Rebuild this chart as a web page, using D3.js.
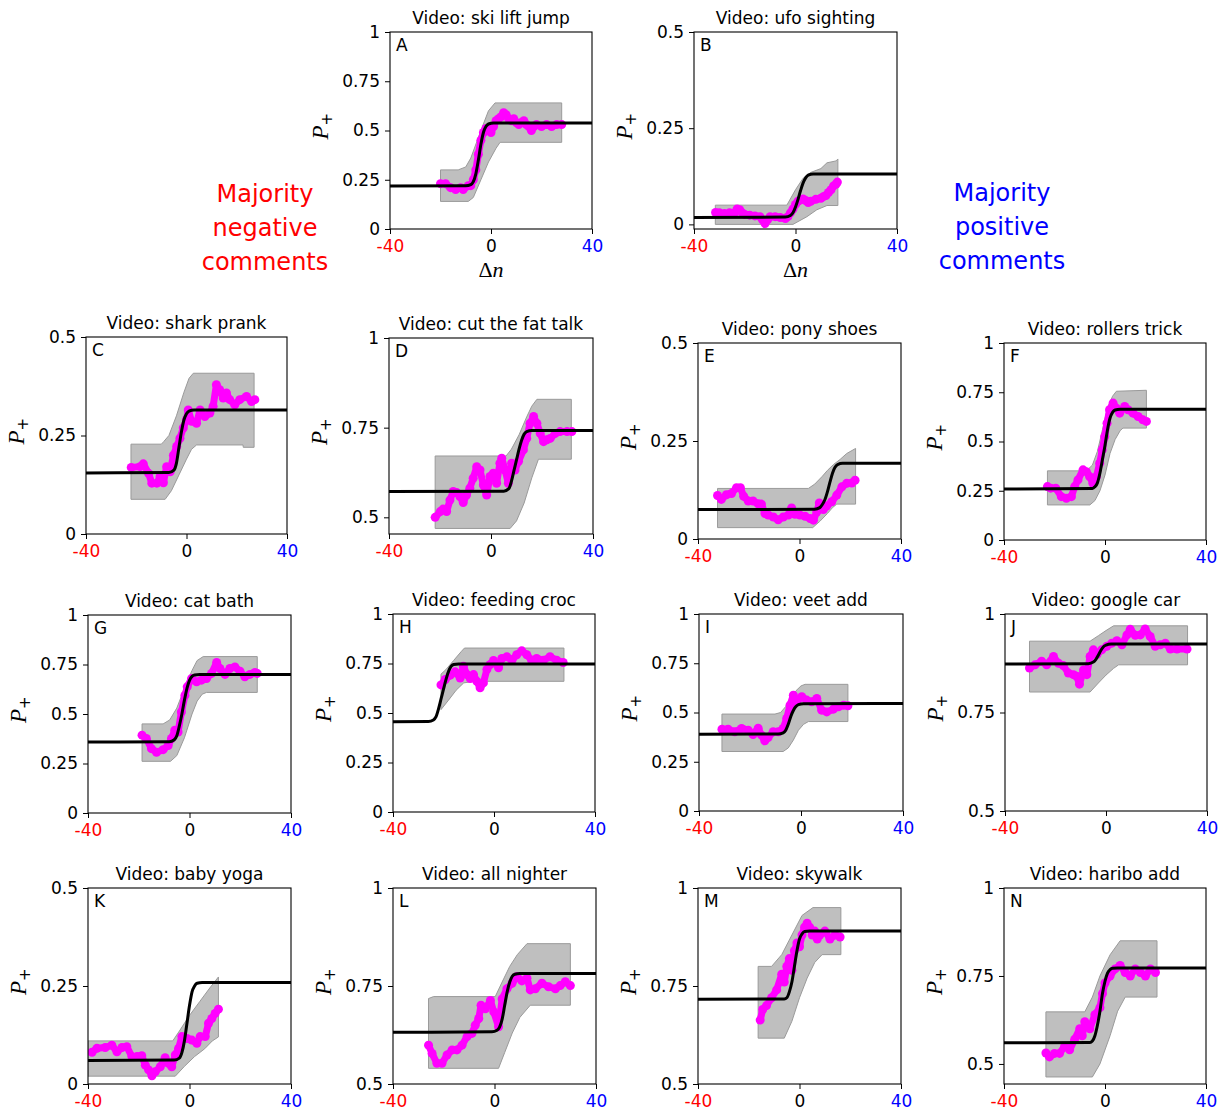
<!DOCTYPE html>
<html><head><meta charset="utf-8">
<script src="https://cdn.jsdelivr.net/npm/d3@7"></script>
<style>
body{margin:0;background:#fff;}
</style>
</head><body>
<script>
// ---------------- DATA ----------------
const panelIds = ["A","B","C","D","E","F","G","H","I","J","K","L","M","N"];
const videoTitles = ["ski lift jump","ufo sighting","shark prank","cut the fat talk","pony shoes","rollers trick",
  "cat bath","feeding croc","veet add","google car","baby yoga","all nighter","skywalk","haribo add"];
const xTickValues = [-40, 0, 40];
const xTickColors = ["#ff0000", "#000000", "#0000ff"];
const yTicksFull = [0, 0.25, 0.5, 0.75, 1];
const yTicksLow = [0, 0.25, 0.5];
const yTicksHigh = [0.5, 0.75, 1];
const yDomains = [[0,1],[-0.012,0.5],[0,0.5],[0.4535,1],[0,0.5],[0,1],[0,1],[0,1],[0,1],[0.5,1],[0,0.5],[0.5,1],[0.5,1],[0.443,1]];
const yTickSets = [yTicksFull,yTicksLow,yTicksLow,yTicksHigh,yTicksLow,yTicksFull,yTicksFull,yTicksFull,yTicksFull,yTicksHigh,yTicksLow,yTicksHigh,yTicksHigh,yTicksHigh];
const leftNote = ["Majority","negative","comments"];
const rightNote = ["Majority","positive","comments"];

// Panel A
const magA = [[-20,0.23],[-18,0.23],[-16,0.21],[-14,0.2],[-12,0.21],[-11,0.2],[-9,0.22],[-8,0.22],[-7,0.25],[-6,0.3],[-5,0.38],[-4,0.45],[-3,0.49],[-2,0.51],[-1,0.5],[0,0.49],[1,0.52],[2,0.55],[3,0.56],[4,0.57],[5,0.59],[6,0.58],[7,0.56],[8,0.55],[9,0.56],[10,0.54],[11,0.53],[12,0.54],[13,0.55],[14,0.53],[15,0.52],[16,0.5],[17,0.52],[18,0.53],[20,0.52],[22,0.53],[24,0.52],[26,0.53],[28,0.53]];
const hiA = [[-20,0.30],[-13,0.30],[-10,0.315],[-8,0.36],[-4,0.50],[-1,0.60],[1.6,0.64],[28,0.64]];
const loA = [[-20,0.14],[-9,0.14],[-7,0.16],[-4,0.25],[-1,0.34],[2,0.41],[3.6,0.44],[28,0.44]];
const fitA = [[-40,0.218],[-10,0.219],[-8,0.225],[-7,0.24],[-6,0.28],[-5,0.35],[-4,0.43],[-3,0.49],[-2,0.52],[-1,0.533],[1,0.538],[40,0.538]];

// Panel B
const magB = [[-31.5,0.031],[-30,0.03],[-28,0.028],[-26,0.03],[-24,0.03],[-23,0.04],[-22,0.038],[-21,0.03],[-20,0.026],[-18,0.024],[-16,0.022],[-14,0.02],[-13,0.012],[-12,0.002],[-11,0.012],[-10,0.02],[-8,0.02],[-6,0.018],[-4,0.015],[-3,0.02],[-2,0.03],[-1,0.04],[0,0.052],[1,0.06],[2,0.064],[3,0.066],[4,0.062],[5,0.057],[6,0.06],[8,0.065],[10,0.068],[11,0.072],[12,0.075],[13,0.083],[14,0.09],[15,0.1],[16,0.105],[16.5,0.11]];
const hiB = [[-31.6,0.05],[-3.4,0.05],[0,0.09],[3,0.12],[6,0.135],[10,0.145],[12.4,0.16],[16,0.165],[16.7,0.17]];
const loB = [[-31.6,0],[-1,0],[4.5,0.02],[8.4,0.038],[12.4,0.049],[16.7,0.049]];
const fitB = [[-40,0.018],[-4,0.019],[-2,0.023],[-1,0.03],[0,0.045],[1,0.065],[2,0.088],[3,0.108],[4,0.121],[5,0.128],[7,0.131],[40,0.131]];

// Panel C
const magC = [[-22,0.169],[-18.5,0.171],[-17.2,0.178],[-15.1,0.154],[-13.8,0.129],[-11.8,0.129],[-10.5,0.146],[-9.2,0.13],[-7.9,0.171],[-6.5,0.158],[-5.2,0.2],[-3.9,0.222],[-2.6,0.243],[-1.3,0.269],[0,0.29],[0.7,0.315],[2,0.286],[4,0.281],[5.4,0.315],[7.3,0.298],[9.3,0.307],[10.6,0.324],[11.9,0.379],[13.2,0.366],[14.6,0.345],[15.9,0.358],[17.2,0.341],[19.2,0.328],[21.2,0.341],[23.9,0.349],[25.9,0.336],[27.2,0.341]];
const hiC = [[-22.1,0.228],[-10,0.228],[-9,0.235],[-7,0.25],[-4,0.3],[-1,0.36],[1,0.395],[2.7,0.408],[26.9,0.408]];
const loC = [[-22.1,0.088],[-8.5,0.088],[-6,0.11],[-3,0.15],[0,0.19],[2,0.215],[4,0.226],[22.5,0.226],[22.6,0.22],[26.9,0.22]];
const fitC = [[-40,0.155],[-7,0.156],[-5,0.162],[-4,0.18],[-3,0.22],[-2,0.26],[-1,0.29],[0,0.305],[1,0.312],[3,0.315],[40,0.315]];

// Panel D
const magD = [[-21.9,0.5],[-19.9,0.516],[-18.8,0.523],[-17.4,0.516],[-16.1,0.548],[-14.8,0.572],[-13.5,0.569],[-12.2,0.558],[-10.9,0.541],[-9.6,0.562],[-8.3,0.581],[-7,0.609],[-5.6,0.641],[-4.3,0.632],[-3,0.59],[-1.7,0.562],[-0.4,0.614],[0.9,0.623],[2.2,0.595],[3.5,0.651],[4.2,0.665],[5.5,0.632],[6.8,0.595],[8.1,0.651],[9.4,0.632],[10.8,0.656],[12.7,0.688],[14,0.72],[15.3,0.762],[16.7,0.781],[18,0.762],[19.3,0.734],[20.6,0.711],[21.9,0.716],[23.2,0.72],[25.2,0.734],[27.1,0.739],[29.8,0.739],[31.7,0.739]];
const hiD = [[-21.9,0.671],[5.9,0.671],[8,0.69],[11,0.73],[14,0.78],[16,0.81],[18,0.829],[31.5,0.829]];
const loD = [[-21.9,0.469],[7.5,0.469],[10,0.49],[13,0.54],[16,0.61],[18.6,0.662],[31.5,0.662]];
const fitD = [[-40,0.572],[5,0.573],[7,0.58],[8,0.6],[9,0.63],[10,0.66],[11,0.69],[12,0.715],[13,0.732],[14,0.739],[16,0.742],[40,0.742]];

// Panel E
const magE = [[-32.3,0.111],[-30.8,0.101],[-28.8,0.113],[-26.8,0.116],[-24.8,0.131],[-23.3,0.131],[-22,0.109],[-20.2,0.097],[-18.3,0.097],[-16.3,0.09],[-15,0.089],[-13.6,0.065],[-12.3,0.061],[-10.3,0.056],[-8.4,0.049],[-6.4,0.056],[-4.4,0.061],[-3.1,0.079],[-1.8,0.063],[0.2,0.061],[2.2,0.058],[4.2,0.052],[5.5,0.048],[6.8,0.069],[7.8,0.092],[9.4,0.075],[10.7,0.084],[12.7,0.095],[14.7,0.112],[16.7,0.133],[18.6,0.142],[20.6,0.143],[21.9,0.15]];
const hiE = [[-32.3,0.129],[3.5,0.129],[6,0.14],[9,0.16],[11,0.175],[13.4,0.19],[16,0.203],[18.6,0.218],[22.1,0.231]];
const loE = [[-32.3,0.029],[5.2,0.029],[8,0.045],[11,0.065],[13,0.08],[14.7,0.089],[22.1,0.089]];
const fitE = [[-40,0.075],[6,0.076],[8,0.08],[9,0.088],[10,0.1],[11,0.12],[12,0.145],[13,0.168],[14,0.183],[15,0.19],[17,0.193],[40,0.193]];

// Panel F
const magF = [[-22.8,0.271],[-21.5,0.263],[-19.5,0.263],[-17.3,0.22],[-15.3,0.212],[-13.3,0.22],[-12,0.271],[-10.7,0.305],[-8.7,0.356],[-7.4,0.347],[-6.1,0.322],[-4.8,0.288],[-3.4,0.322],[-2.1,0.39],[-1.1,0.458],[-0.1,0.525],[0.8,0.593],[1.8,0.661],[3.2,0.695],[4.5,0.669],[5.8,0.644],[7.8,0.678],[9.1,0.661],[11.1,0.644],[13.1,0.627],[15,0.61],[16.4,0.602]];
const hiF = [[-22.8,0.351],[-7.4,0.351],[-5,0.38],[-3,0.45],[-1,0.56],[1,0.67],[3,0.73],[4.5,0.755],[16.4,0.76]];
const loF = [[-22.8,0.178],[-6,0.178],[-4,0.2],[-2,0.25],[0,0.33],[2,0.44],[4,0.51],[6,0.555],[7.1,0.568],[16.4,0.568]];
const fitF = [[-40,0.259],[-5,0.262],[-4,0.27],[-3,0.29],[-2,0.34],[-1,0.41],[0,0.48],[1,0.56],[2,0.62],[3,0.648],[4,0.66],[6,0.664],[40,0.664]];

// Panel G
const magG = [[-18.7,0.393],[-17,0.376],[-15,0.325],[-13,0.307],[-10.4,0.32],[-8.4,0.341],[-7.1,0.376],[-5.8,0.418],[-4.5,0.409],[-3.2,0.51],[-1.8,0.594],[-0.9,0.637],[0.8,0.679],[2.8,0.663],[4.7,0.671],[6.7,0.679],[8.7,0.705],[10.7,0.76],[12,0.73],[14,0.7],[15.9,0.73],[17.9,0.738],[19.9,0.716],[21.8,0.688],[23.8,0.7],[25.8,0.71],[26.7,0.705]];
const hiG = [[-18.7,0.45],[-10.4,0.45],[-7.8,0.47],[-5,0.53],[-2,0.63],[1,0.72],[3,0.77],[5.4,0.79],[26.7,0.79]];
const loG = [[-18.7,0.261],[-7.5,0.261],[-5,0.29],[-2,0.38],[1,0.5],[3,0.565],[5,0.6],[6.7,0.609],[26.7,0.609]];
const fitG = [[-40,0.358],[-8,0.36],[-6,0.37],[-5,0.39],[-4,0.44],[-3,0.5],[-2,0.57],[-1,0.63],[0,0.67],[1,0.69],[2,0.697],[4,0.7],[40,0.7]];

// Panel H
const magH = [[-21,0.642],[-19.3,0.669],[-17.3,0.691],[-15.4,0.708],[-13.4,0.677],[-12.1,0.736],[-10.7,0.694],[-9.4,0.674],[-8.1,0.694],[-6.8,0.66],[-5.5,0.627],[-4.2,0.652],[-2.8,0.72],[-1.5,0.745],[-0.2,0.765],[1.8,0.728],[3.1,0.775],[5.1,0.784],[7.1,0.767],[9,0.794],[11,0.814],[13,0.794],[14.9,0.767],[16.9,0.775],[19.6,0.767],[22.2,0.784],[24.8,0.767],[27.4,0.755]];
const hiH = [[-21,0.696],[-19,0.72],[-16,0.765],[-13,0.81],[-11.7,0.828],[27.7,0.828]];
const loH = [[-21,0.517],[-18,0.565],[-15,0.615],[-12,0.652],[-8,0.66],[27.7,0.66]];
const fitH = [[-40,0.456],[-26,0.457],[-24,0.465],[-23,0.48],[-22,0.52],[-21,0.57],[-20,0.62],[-19,0.67],[-18,0.71],[-17,0.735],[-16,0.745],[-14,0.748],[40,0.748]];

// Panel I
const magI = [[-31,0.415],[-28.6,0.415],[-26,0.402],[-23.3,0.419],[-20.7,0.41],[-18.8,0.388],[-16.8,0.42],[-15.5,0.385],[-14.2,0.356],[-12.9,0.373],[-10.9,0.402],[-8.9,0.402],[-7,0.419],[-5.6,0.47],[-4.3,0.537],[-3,0.588],[-1.7,0.554],[0.3,0.58],[2.2,0.563],[4.2,0.554],[6.2,0.571],[8.1,0.512],[10.1,0.503],[12.7,0.517],[14.7,0.529],[16.7,0.537],[18.4,0.534]];
const hiI = [[-31,0.492],[-10.2,0.492],[-8,0.5],[-6,0.53],[-4,0.57],[-2,0.61],[0,0.635],[1.6,0.643],[18.4,0.643]];
const loI = [[-31,0.302],[-7,0.302],[-5,0.32],[-3,0.36],[-1,0.41],[1,0.44],[2.9,0.454],[18.4,0.454]];
const fitI = [[-40,0.39],[-9,0.391],[-7,0.397],[-6,0.41],[-5,0.44],[-4,0.48],[-3,0.51],[-2,0.53],[-1,0.54],[1,0.545],[40,0.546]];

// Panel J
const magJ = [[-30.3,0.863],[-28.1,0.871],[-25.5,0.88],[-23.5,0.871],[-20.8,0.892],[-18.8,0.875],[-16.9,0.869],[-14.9,0.85],[-12.9,0.846],[-11.6,0.842],[-10.5,0.822],[-8.9,0.858],[-7.6,0.846],[-6.3,0.892],[-5,0.909],[-3.6,0.897],[-1.7,0.909],[0.3,0.918],[2.3,0.926],[4.3,0.932],[6.3,0.922],[8.3,0.947],[9.6,0.961],[11.6,0.946],[13.6,0.947],[15.5,0.962],[17.5,0.943],[19.5,0.918],[21.5,0.922],[23.5,0.926],[25.5,0.911],[28.1,0.911],[32.1,0.911]];
const hiJ = [[-30.3,0.931],[-6.3,0.931],[-3,0.945],[0,0.958],[3,0.97],[32.3,0.97]];
const loJ = [[-30.3,0.802],[-6.3,0.802],[-3,0.825],[0,0.845],[3,0.862],[5,0.871],[32.3,0.871]];
const fitJ = [[-40,0.873],[-7,0.874],[-5,0.878],[-4,0.885],[-3,0.896],[-2,0.908],[-1,0.917],[0,0.921],[2,0.924],[40,0.924]];

// Panel K
const magK = [[-38.4,0.081],[-36.5,0.091],[-33.2,0.093],[-30.6,0.099],[-28.6,0.082],[-26.6,0.093],[-24.7,0.095],[-22.7,0.07],[-20.7,0.07],[-18.8,0.072],[-17.4,0.048],[-16.1,0.036],[-14.8,0.021],[-13.5,0.031],[-11.5,0.044],[-9.6,0.067],[-8.3,0.053],[-7,0.044],[-5.6,0.074],[-4.3,0.091],[-3,0.121],[-1,0.116],[0.9,0.112],[2.9,0.104],[4.2,0.121],[6.2,0.121],[7.5,0.155],[8.8,0.167],[10.1,0.18],[11.4,0.191]];
const hiK = [[-40,0.11],[-6.6,0.11],[-4,0.135],[0,0.175],[4,0.21],[8,0.245],[11.4,0.273]];
const loK = [[-40,0.02],[-5.6,0.02],[-2,0.045],[2,0.07],[6,0.09],[9,0.11],[11.4,0.12]];
const fitK = [[-40,0.06],[-6,0.061],[-4,0.066],[-3,0.08],[-2,0.11],[-1,0.155],[0,0.2],[1,0.235],[2,0.25],[3,0.257],[5,0.259],[40,0.259]];

// Panel L
const magL = [[-26,0.599],[-24.6,0.578],[-22.7,0.553],[-20.7,0.553],[-18.7,0.574],[-16.7,0.587],[-14.8,0.587],[-12.8,0.599],[-10.8,0.621],[-8.9,0.629],[-7.6,0.65],[-6.2,0.667],[-5.3,0.701],[-3.6,0.692],[-1.6,0.713],[-0.3,0.684],[1.6,0.646],[3,0.717],[4.9,0.743],[6.9,0.757],[8.9,0.774],[10.8,0.763],[12.8,0.77],[14.1,0.74],[16.1,0.743],[18.7,0.757],[21.3,0.748],[24,0.743],[25.9,0.751],[27.9,0.761],[29.9,0.751]];
const hiL = [[-26,0.718],[-24,0.723],[0.3,0.723],[3,0.76],[6,0.8],[9,0.83],[12.8,0.858],[29.9,0.858]];
const loL = [[-26,0.54],[1.6,0.54],[4,0.58],[7,0.63],[10,0.67],[14.1,0.701],[29.9,0.701]];
const fitL = [[-40,0.632],[-1,0.633],[1,0.637],[2,0.645],[3,0.665],[4,0.7],[5,0.735],[6,0.76],[7,0.775],[8,0.78],[10,0.782],[40,0.782]];

// Panel M
const magM = [[-15.5,0.663],[-14.5,0.69],[-13,0.7],[-11,0.72],[-9,0.74],[-7,0.78],[-6,0.76],[-5,0.8],[-4,0.82],[-3,0.79],[-2,0.84],[-1,0.86],[0,0.85],[1,0.88],[2,0.9],[3,0.91],[4,0.9],[5,0.88],[6,0.89],[7,0.87],[8,0.88],[10,0.89],[12,0.87],[14,0.88],[16,0.875]];
const hiM = [[-16.3,0.8],[-11,0.8],[-7,0.83],[-3,0.88],[1,0.93],[5.3,0.95],[16.3,0.95]];
const loM = [[-16.3,0.617],[-6,0.617],[-3,0.66],[0,0.72],[3,0.77],[6,0.81],[8.9,0.83],[16.3,0.83]];
const fitM = [[-40,0.716],[-6,0.717],[-5,0.72],[-4,0.735],[-3,0.76],[-2,0.8],[-1,0.84],[0,0.87],[1,0.883],[2,0.889],[4,0.89],[40,0.89]];

// Panel N
const magN = [[-23.4,0.531],[-22,0.52],[-20,0.53],[-18,0.53],[-16,0.55],[-14,0.54],[-12,0.57],[-10,0.6],[-9,0.58],[-8,0.62],[-6,0.6],[-4,0.64],[-2,0.66],[-1,0.7],[0,0.73],[2,0.75],[4,0.77],[6,0.78],[8,0.76],[10,0.75],[12,0.77],[14,0.76],[16,0.75],[18,0.77],[20,0.76]];
const hiN = [[-23.4,0.648],[-8,0.648],[-5,0.69],[-2,0.75],[2,0.81],[6,0.85],[20.6,0.85]];
const loN = [[-23.4,0.463],[-5,0.463],[-2,0.5],[2,0.58],[5,0.65],[8,0.69],[20.6,0.69]];
const fitN = [[-40,0.56],[-6,0.561],[-5,0.565],[-4,0.58],[-3,0.61],[-2,0.65],[-1,0.7],[0,0.735],[1,0.758],[2,0.768],[3,0.772],[5,0.773],[40,0.773]];

const magSeries = [magA,magB,magC,magD,magE,magF,magG,magH,magI,magJ,magK,magL,magM,magN];
const hiSeries = [hiA,hiB,hiC,hiD,hiE,hiF,hiG,hiH,hiI,hiJ,hiK,hiL,hiM,hiN];
const loSeries = [loA,loB,loC,loD,loE,loF,loG,loH,loI,loJ,loK,loL,loM,loN];
const fitSeries = [fitA,fitB,fitC,fitD,fitE,fitF,fitG,fitH,fitI,fitJ,fitK,fitL,fitM,fitN];

// ---------------- LAYOUT (pixel boxes: left, right, top, bottom) ----------------
const boxes = [
  [390,592,32,229],[694,897,32,229],
  [86,287,337,534],[389,593,338,534],[698,901,343,539],[1004,1206,343,540],
  [88,291,615,813],[393,595,614,812],[699,903,614,811],[1005,1207,614,811],
  [88,291,888,1084],[393,596,888,1084],[698,901,888,1084],[1004,1206,888,1084]
];
const SANS = "'DejaVu Sans', sans-serif";
const SERIF = "'Liberation Serif', 'DejaVu Serif', serif";

// ---------------- DRAW ----------------
const svg = d3.select("body").append("svg").attr("width",1221).attr("height",1111)
  .style("font-family", SANS);
const defs = svg.append("defs");

panelIds.forEach((id,i)=>{
  const [L,R,T,B] = boxes[i];
  const x = d3.scaleLinear().domain([-40,40]).range([L,R]);
  const y = d3.scaleLinear().domain(yDomains[i]).range([B,T]);
  const g = svg.append("g");
  defs.append("clipPath").attr("id","clip"+id).append("rect")
    .attr("x",L).attr("y",T).attr("width",R-L).attr("height",B-T);
  const inner = g.append("g").attr("clip-path",`url(#clip${id})`);
  const line = d3.line().x(d=>x(d[0])).y(d=>y(d[1]));

  // band
  const poly = hiSeries[i].concat(loSeries[i].slice().reverse());
  inner.append("path").attr("d", line(poly)+"Z")
    .attr("fill","#bfbfbf").attr("stroke","#9a9a9a").attr("stroke-width",1);

  // magenta data
  inner.append("path").attr("d", line(magSeries[i]))
    .attr("fill","none").attr("stroke","#ff00ff").attr("stroke-width",7)
    .attr("stroke-linejoin","round").attr("stroke-linecap","round");
  inner.selectAll("circle.m").data(magSeries[i]).enter().append("circle")
    .attr("cx",d=>x(d[0])).attr("cy",d=>y(d[1])).attr("r",4.5).attr("fill","#ff00ff");

  // fit curve
  inner.append("path").attr("d", d3.line().curve(d3.curveMonotoneX).x(d=>x(d[0])).y(d=>y(d[1]))(fitSeries[i]))
    .attr("fill","none").attr("stroke","#000").attr("stroke-width",3);

  // frame
  g.append("rect").attr("x",L).attr("y",T).attr("width",R-L).attr("height",B-T)
    .attr("fill","none").attr("stroke","#000").attr("stroke-width",1.1);

  // axes
  const xa = g.append("g").attr("transform",`translate(0,${B})`)
    .call(d3.axisBottom(x).tickValues(xTickValues).tickSize(5).tickPadding(6).tickFormat(d=>String(d)));
  xa.attr("font-family",null);
  xa.select(".domain").remove();
  xa.selectAll("text").attr("font-size",17).style("font-family",SANS)
    .attr("fill",(d,k)=>xTickColors[k]);
  const ya = g.append("g").attr("transform",`translate(${L},0)`)
    .call(d3.axisLeft(y).tickValues(yTickSets[i]).tickSize(5).tickPadding(5).tickFormat(d=>String(d)));
  ya.select(".domain").remove();
  ya.selectAll("text").attr("font-size",17).style("font-family",SANS).attr("fill","#000");

  // title
  g.append("text").attr("x",(L+R)/2).attr("y",T-8).attr("text-anchor","middle")
    .attr("font-size",17).style("font-family",SANS).text("Video: "+videoTitles[i]);
  // panel letter
  g.append("text").attr("x",L+6).attr("y",T+19).attr("font-size",17).style("font-family",SANS).text(id);

  // y label P+
  const yl = g.append("text").attr("transform",`translate(${L-62},${(T+B)/2+9}) rotate(-90)`)
    .style("font-family",SERIF).attr("font-size",23);
  yl.append("tspan").style("font-style","italic").text("P");
  yl.append("tspan").attr("font-size",15).attr("dy",4).style("font-family",SANS).text("+");

  if (i < 2) {
    const xl = g.append("text").attr("x",(L+R)/2).attr("y",277).attr("text-anchor","middle")
      .style("font-family",SERIF).attr("font-size",22);
    xl.append("tspan").text("Δ");
    xl.append("tspan").style("font-style","italic").text("n");
  }
});

// annotations
leftNote.forEach((t,k)=>{
  svg.append("text").attr("x",265).attr("y",202+k*34).attr("text-anchor","middle")
    .attr("font-size",24).style("font-family",SANS).attr("fill","#ff0000").text(t);
});
rightNote.forEach((t,k)=>{
  svg.append("text").attr("x",1002).attr("y",201+k*34).attr("text-anchor","middle")
    .attr("font-size",24).style("font-family",SANS).attr("fill","#0000ff").text(t);
});
</script>
</body></html>
